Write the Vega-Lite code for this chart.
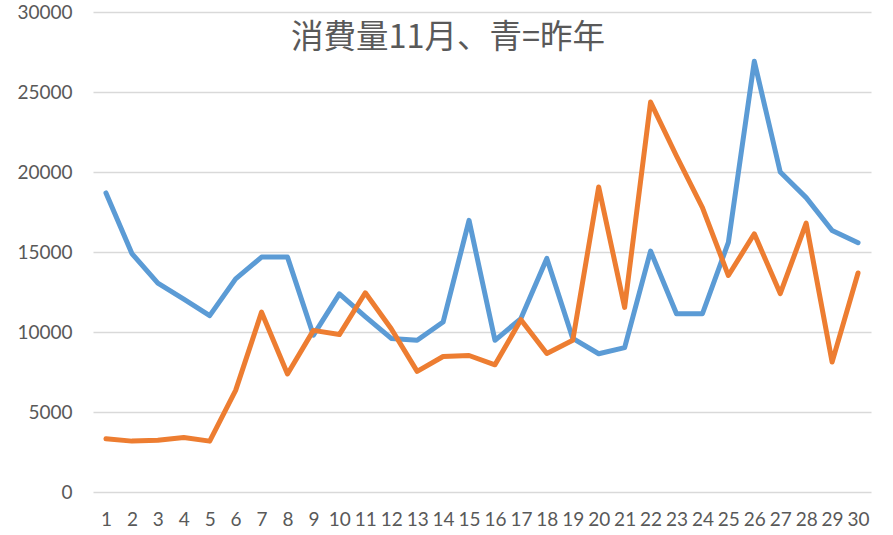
{
  "$schema": "https://vega.github.io/schema/vega-lite/v6.json",
  "width": 778,
  "height": 480,
  "autosize": {"type": "none"},
  "padding": {"left": 93, "top": 12, "right": 22, "bottom": 43},
  "background": "white",
  "title": {
    "text": "消費量11月、青=昨年",
    "font": "Noto Sans CJK JP",
    "fontSize": 32.5,
    "fontWeight": "normal",
    "color": "#595959",
    "anchor": "middle",
    "baseline": "middle",
    "orient": "top",
    "offset": -67,
    "dx": -34
  },
  "config": {
    "view": {"stroke": null},
    "axis": {
      "labelFont": "Lato",
      "labelFontSize": 19,
      "labelColor": "#595959",
      "titleFont": "Lato"
    }
  },
  "data": {
    "values": [
      {"day": 1, "series": "昨年", "value": 18690},
      {"day": 2, "series": "昨年", "value": 14900},
      {"day": 3, "series": "昨年", "value": 13060},
      {"day": 4, "series": "昨年", "value": 12060},
      {"day": 5, "series": "昨年", "value": 11020},
      {"day": 6, "series": "昨年", "value": 13320},
      {"day": 7, "series": "昨年", "value": 14680},
      {"day": 8, "series": "昨年", "value": 14680},
      {"day": 9, "series": "昨年", "value": 9800},
      {"day": 10, "series": "昨年", "value": 12380},
      {"day": 11, "series": "昨年", "value": 10960},
      {"day": 12, "series": "昨年", "value": 9600},
      {"day": 13, "series": "昨年", "value": 9480},
      {"day": 14, "series": "昨年", "value": 10620},
      {"day": 15, "series": "昨年", "value": 16980},
      {"day": 16, "series": "昨年", "value": 9480},
      {"day": 17, "series": "昨年", "value": 10840},
      {"day": 18, "series": "昨年", "value": 14600},
      {"day": 19, "series": "昨年", "value": 9600},
      {"day": 20, "series": "昨年", "value": 8640},
      {"day": 21, "series": "昨年", "value": 9020},
      {"day": 22, "series": "昨年", "value": 15060},
      {"day": 23, "series": "昨年", "value": 11140},
      {"day": 24, "series": "昨年", "value": 11140},
      {"day": 25, "series": "昨年", "value": 15600},
      {"day": 26, "series": "昨年", "value": 26920},
      {"day": 27, "series": "昨年", "value": 20000},
      {"day": 28, "series": "昨年", "value": 18400},
      {"day": 29, "series": "昨年", "value": 16340},
      {"day": 30, "series": "昨年", "value": 15580},
      {"day": 1, "series": "今年", "value": 3330},
      {"day": 2, "series": "今年", "value": 3180},
      {"day": 3, "series": "今年", "value": 3230},
      {"day": 4, "series": "今年", "value": 3400},
      {"day": 5, "series": "今年", "value": 3180},
      {"day": 6, "series": "今年", "value": 6350},
      {"day": 7, "series": "今年", "value": 11240},
      {"day": 8, "series": "今年", "value": 7380},
      {"day": 9, "series": "今年", "value": 10100},
      {"day": 10, "series": "今年", "value": 9840},
      {"day": 11, "series": "今年", "value": 12450},
      {"day": 12, "series": "今年", "value": 10200},
      {"day": 13, "series": "今年", "value": 7540},
      {"day": 14, "series": "今年", "value": 8470},
      {"day": 15, "series": "今年", "value": 8530},
      {"day": 16, "series": "今年", "value": 7950},
      {"day": 17, "series": "今年", "value": 10770},
      {"day": 18, "series": "今年", "value": 8660},
      {"day": 19, "series": "今年", "value": 9480},
      {"day": 20, "series": "今年", "value": 19060},
      {"day": 21, "series": "今年", "value": 11540},
      {"day": 22, "series": "今年", "value": 24370},
      {"day": 23, "series": "今年", "value": 21000},
      {"day": 24, "series": "今年", "value": 17780},
      {"day": 25, "series": "今年", "value": 13530},
      {"day": 26, "series": "今年", "value": 16140},
      {"day": 27, "series": "今年", "value": 12400},
      {"day": 28, "series": "今年", "value": 16800},
      {"day": 29, "series": "今年", "value": 8120},
      {"day": 30, "series": "今年", "value": 13690}
    ]
  },
  "encoding": {
    "x": {
      "field": "day",
      "type": "ordinal",
      "scale": {"type": "point", "padding": 0.5},
      "axis": {
        "title": null,
        "labelAngle": 0,
        "domain": false,
        "ticks": false,
        "grid": false,
        "labelPadding": 18,
        "labelBaseline": "top"
      }
    },
    "y": {
      "field": "value",
      "type": "quantitative",
      "scale": {"domain": [0, 30000], "nice": false},
      "axis": {
        "title": null,
        "values": [0, 5000, 10000, 15000, 20000, 25000, 30000],
        "format": "d",
        "domain": false,
        "ticks": false,
        "grid": true,
        "gridColor": "#d9d9d9",
        "gridWidth": 1.5,
        "labelPadding": 21
      }
    },
    "color": {
      "field": "series",
      "type": "nominal",
      "scale": {"domain": ["昨年", "今年"], "range": ["#5B9BD5", "#ED7D31"]},
      "legend": null
    }
  },
  "layer": [
    {
      "transform": [{"filter": "datum.series === '昨年'"}],
      "mark": {"type": "line", "strokeWidth": 5, "strokeJoin": "round", "strokeCap": "round"}
    },
    {
      "transform": [{"filter": "datum.series === '今年'"}],
      "mark": {"type": "line", "strokeWidth": 5, "strokeJoin": "round", "strokeCap": "round"}
    }
  ]
}
